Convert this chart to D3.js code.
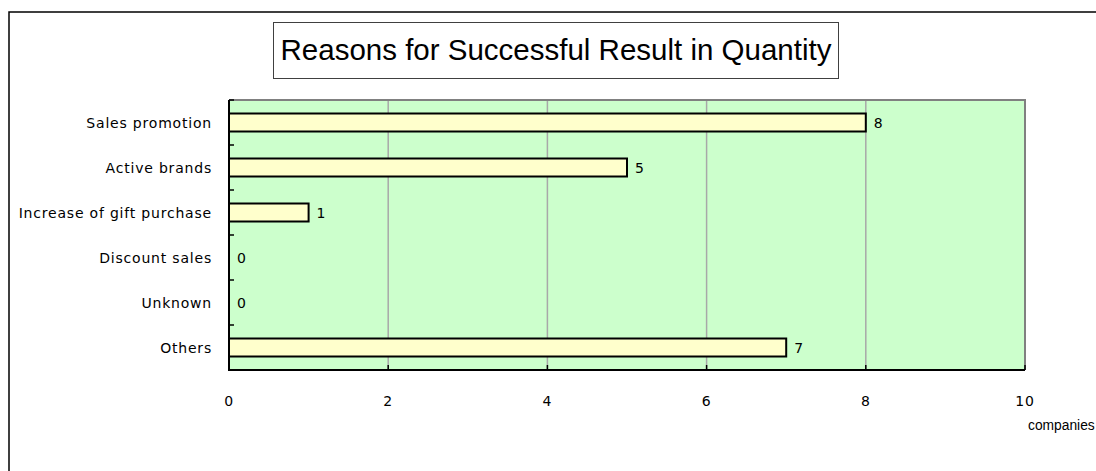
<!DOCTYPE html>
<html>
<head>
<meta charset="utf-8">
<script src="https://cdn.jsdelivr.net/npm/d3@7"></script>
<style>
  html, body { margin: 0; padding: 0; background: #fff; overflow: hidden; }
  svg { display: block; }
</style>
</head>
<body>
<div id="chart"></div>
<script>
// Survey results: number of companies citing each reason
const categories = ["Sales promotion", "Active brands", "Increase of gift purchase", "Discount sales", "Unknown", "Others"];
const values = [8, 5, 1, 0, 0, 7];
const xTicks = [0, 2, 4, 6, 8, 10];
const titleText = "Reasons for Successful Result in Quantity";
const unitText = "companies";

const W = 1096, H = 471;
const plot = { left: 229, right: 1025, top: 100, bottom: 370 };
const labelFont = "'DejaVu Sans', sans-serif";
const labelSize = 14;
const labelSpacing = 0.8;

const svg = d3.select("#chart").append("svg")
  .attr("width", W).attr("height", H);

// Outer chart frame (only the left and top edges fall inside the view)
svg.append("path")
  .attr("d", `M9,${H + 5}V12H${W + 5}`)
  .attr("fill", "none").attr("stroke", "#000").attr("stroke-width", 1.5);

// Title box
const titleG = svg.append("g");
titleG.append("rect")
  .attr("x", 273.5).attr("y", 22.5).attr("width", 565).attr("height", 56)
  .attr("fill", "#fff").attr("stroke", "#404040").attr("stroke-width", 1);
titleG.append("text")
  .attr("x", 556).attr("y", 59.5)
  .attr("text-anchor", "middle")
  .attr("font-family", "'Liberation Sans', Arial, sans-serif")
  .attr("font-size", 29.5).attr("fill", "#000")
  .text(titleText);

const x = d3.scaleLinear().domain([0, 10]).range([plot.left, plot.right]);
const y = d3.scaleBand().domain(categories).range([plot.top, plot.bottom]).paddingInner(0).paddingOuter(0);

// Plot background
svg.append("rect")
  .attr("x", plot.left).attr("y", plot.top)
  .attr("width", plot.right - plot.left).attr("height", plot.bottom - plot.top)
  .attr("fill", "#CCFFCC");

// Vertical gridlines
svg.append("g").selectAll("line")
  .data(xTicks.filter(t => t > 0 && t < 10))
  .join("line")
  .attr("x1", d => x(d)).attr("x2", d => x(d))
  .attr("y1", plot.top).attr("y2", plot.bottom)
  .attr("stroke", "#A8A8A8").attr("stroke-width", 1.5);

// Top and right plot border
svg.append("path")
  .attr("d", `M${plot.left},${plot.top}H${plot.right}V${plot.bottom}`)
  .attr("fill", "none").attr("stroke", "#808080").attr("stroke-width", 2);

// Bars
const barH = 18;
svg.append("g").selectAll("rect")
  .data(values)
  .join("rect")
  .attr("x", x(0))
  .attr("y", (d, i) => y(categories[i]) + y.bandwidth() / 2 - barH / 2)
  .attr("width", d => x(d) - x(0))
  .attr("height", barH)
  .attr("fill", "#FFFFCC")
  .attr("stroke", "#000").attr("stroke-width", d => d > 0 ? 2 : 0);

function styleLabel(sel) {
  sel.attr("font-family", labelFont).attr("font-size", labelSize)
    .attr("letter-spacing", labelSpacing).attr("fill", "#000");
}

// Value labels
svg.append("g").selectAll("text")
  .data(values)
  .join("text")
  .attr("x", d => x(d) + 8)
  .attr("y", (d, i) => y(categories[i]) + y.bandwidth() / 2 + 5)
  .call(styleLabel)
  .text(d => d);

// Y axis: category labels, inside ticks at band boundaries
const yAxis = svg.append("g");
yAxis.append("line")
  .attr("x1", plot.left).attr("x2", plot.left)
  .attr("y1", plot.top).attr("y2", plot.bottom + 1)
  .attr("stroke", "#000").attr("stroke-width", 2);
const boundaries = categories.map(c => y(c)).concat([plot.bottom]);
yAxis.selectAll("line.tick")
  .data(boundaries)
  .join("line").attr("class", "tick")
  .attr("x1", plot.left).attr("x2", plot.left + 5)
  .attr("y1", d => d).attr("y2", d => d)
  .attr("stroke", "#000").attr("stroke-width", 1.5);
yAxis.selectAll("text")
  .data(categories)
  .join("text")
  .attr("x", plot.left - 17)
  .attr("y", d => y(d) + y.bandwidth() / 2 + 5)
  .attr("text-anchor", "end")
  .call(styleLabel)
  .text(d => d);

// X axis
const xAxis = svg.append("g");
xAxis.append("line")
  .attr("x1", plot.left - 1).attr("x2", plot.right)
  .attr("y1", plot.bottom).attr("y2", plot.bottom)
  .attr("stroke", "#000").attr("stroke-width", 2);
xAxis.selectAll("line.tick")
  .data(xTicks)
  .join("line").attr("class", "tick")
  .attr("x1", d => x(d)).attr("x2", d => x(d))
  .attr("y1", plot.bottom).attr("y2", plot.bottom - 5)
  .attr("stroke", "#000").attr("stroke-width", 1.5);
xAxis.selectAll("text")
  .data(xTicks)
  .join("text")
  .attr("x", d => x(d))
  .attr("y", 405.5)
  .attr("text-anchor", "middle")
  .call(styleLabel)
  .text(d => d);

// Unit label
svg.append("text")
  .attr("x", 1028).attr("y", 430)
  .attr("font-family", "'Liberation Sans', Arial, sans-serif")
  .attr("font-size", 13.8).attr("fill", "#000")
  .text(unitText);
</script>
</body>
</html>
